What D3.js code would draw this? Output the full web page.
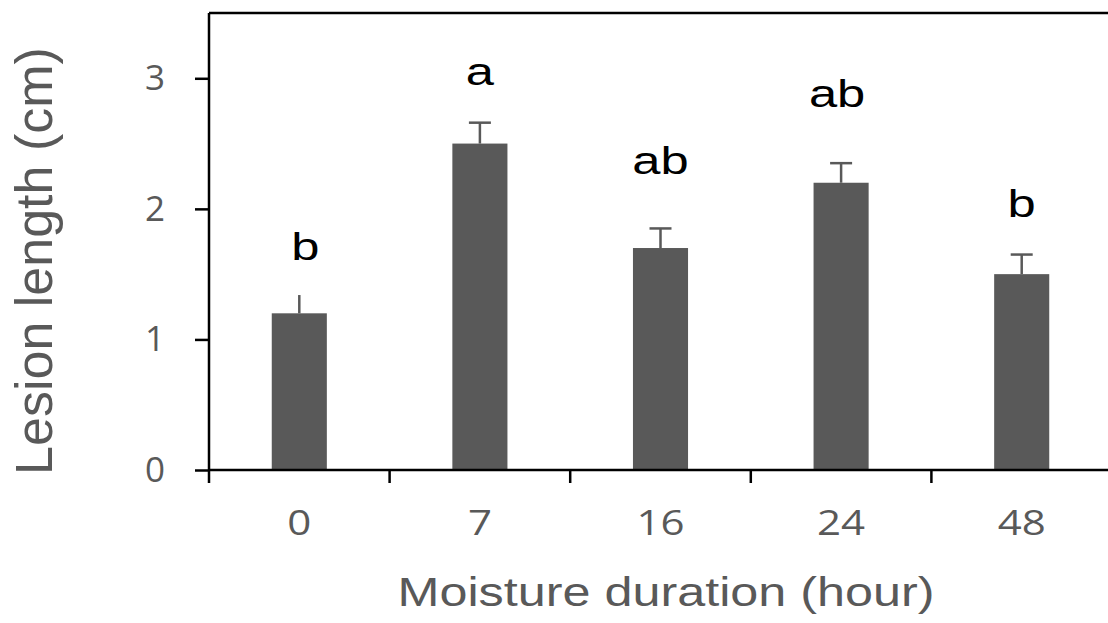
<!DOCTYPE html>
<style>
body { margin: 0; background: #fff; }
.tick-lab { font-family: "Open Sans", "Noto Sans", sans-serif; font-size: 35px; fill: #595959; }
.title { font-family: "Liberation Sans", Arial, sans-serif; font-size: 40px; fill: #595959; }
.letter { font-family: "Liberation Sans", Arial, sans-serif; font-size: 39px; fill: #000; }
</style>
<script src="https://d3js.org/d3.v7.min.js"></script>
<body>
<script>

var hours = ["0", "7", "16", "24", "48"];
var lesion = [1.2, 2.5, 1.7, 2.2, 1.5];
var stdErr = [0.14, 0.16, 0.15, 0.15, 0.15];
var letters = ["b", "a", "ab", "ab", "b"];
var letterLevel = [1.61, 2.95, 2.27, 2.78, 1.94];
var yTicks = [0, 1, 2, 3];

var width = 1108,
    height = 623;

var margin = {left: 209, right: 1112, top: 13, bottom: 470};

var svg = d3.select("body").append("svg")
    .attr("width", width)
    .attr("height", height);

var x = d3.scaleBand()
    .domain(hours)
    .range([margin.left, margin.right])
    .paddingInner(0.695)
    .paddingOuter(0.3475);

var step = x.step();

var y = d3.scaleLinear()
    .domain([0, 3.5])
    .range([margin.bottom, margin.top]);

// bars
svg.selectAll("rect.bar")
  .data(hours)
  .enter().append("rect")
    .attr("class", "bar")
    .attr("x", function(d) { return x(d); })
    .attr("y", function(d, i) { return y(lesion[i]); })
    .attr("width", x.bandwidth())
    .attr("height", function(d, i) { return y(0) - y(lesion[i]); })
    .attr("fill", "#595959");

// error bars (upper only)
var eb = svg.selectAll("g.err")
  .data(hours)
  .enter().append("g")
    .attr("class", "err")
    .attr("stroke", "#595959")
    .attr("stroke-width", 2.5);

eb.append("line")
    .attr("x1", function(d) { return x(d) + x.bandwidth() / 2; })
    .attr("x2", function(d) { return x(d) + x.bandwidth() / 2; })
    .attr("y1", function(d, i) { return y(lesion[i]); })
    .attr("y2", function(d, i) { return y(lesion[i] + stdErr[i]); });

eb.filter(function(d, i) { return i > 0; }).append("line")
    .attr("x1", function(d) { return x(d) + x.bandwidth() / 2 - 11; })
    .attr("x2", function(d) { return x(d) + x.bandwidth() / 2 + 11; })
    .attr("y1", function(d) { var i = hours.indexOf(d); return y(lesion[i] + stdErr[i]); })
    .attr("y2", function(d) { var i = hours.indexOf(d); return y(lesion[i] + stdErr[i]); });

// significance letters (slightly wide, like the original)
svg.selectAll("text.letter")
  .data(letters)
  .enter().append("text")
    .attr("class", "letter")
    .attr("transform", function(d, i) {
      var cx = x(hours[i]) + x.bandwidth() / 2 + (i == 0 ? 6 : (i == 3 ? -4 : 0));
      return "translate(" + cx + "," + y(letterLevel[i]) + ") scale(1.3,1)";
    })
    .attr("text-anchor", "middle")
    .text(function(d) { return d; });

// frame: top line
svg.append("line")
    .attr("x1", margin.left).attr("x2", margin.right)
    .attr("y1", margin.top).attr("y2", margin.top)
    .attr("stroke", "#000").attr("stroke-width", 2.5);

// y axis
var yAxis = svg.append("g")
    .attr("transform", "translate(" + margin.left + ",0)")
    .call(d3.axisLeft(y).tickValues(yTicks).tickSize(14).tickFormat(d3.format("d")).tickPadding(30));
yAxis.select(".domain").remove();
yAxis.selectAll(".tick line").attr("stroke", "#000").attr("stroke-width", 2.5);
yAxis.selectAll(".tick text").attr("class", "tick-lab").attr("font-size", null).attr("font-family", null).attr("fill", null);
yAxis.append("line")
    .attr("y1", margin.top).attr("y2", margin.bottom + 13)
    .attr("stroke", "#000").attr("stroke-width", 2.5);

// x axis
var xAxis = svg.append("g")
    .attr("transform", "translate(0," + margin.bottom + ")")
    .call(d3.axisBottom(x).tickSize(0).tickPadding(40));
xAxis.select(".domain").remove();
xAxis.selectAll(".tick text").attr("class", "tick-lab").attr("font-size", null).attr("font-family", null).attr("fill", null)
    .attr("transform", "scale(1.2,1)");
xAxis.append("line")
    .attr("x1", margin.left).attr("x2", margin.right)
    .attr("stroke", "#000").attr("stroke-width", 2.5);
xAxis.selectAll("line.sep")
  .data(hours.slice(1))
  .enter().append("line")
    .attr("class", "sep")
    .attr("x1", function(d) { return x(d) - (step - x.bandwidth()) / 2; })
    .attr("x2", function(d) { return x(d) - (step - x.bandwidth()) / 2; })
    .attr("y1", 0).attr("y2", 13)
    .attr("stroke", "#000").attr("stroke-width", 2.5);

// axis titles
svg.append("text")
    .attr("class", "title")
    .attr("x", 666)
    .attr("y", 606)
    .attr("text-anchor", "middle")
    .attr("textLength", 537)
    .attr("lengthAdjust", "spacingAndGlyphs")
    .text("Moisture duration (hour)");

svg.append("text")
    .attr("class", "title")
    .attr("transform", "translate(52,261) rotate(-90)")
    .attr("text-anchor", "middle")
    .style("font-size", "52px")
    .text("Lesion length (cm)");

</script>
